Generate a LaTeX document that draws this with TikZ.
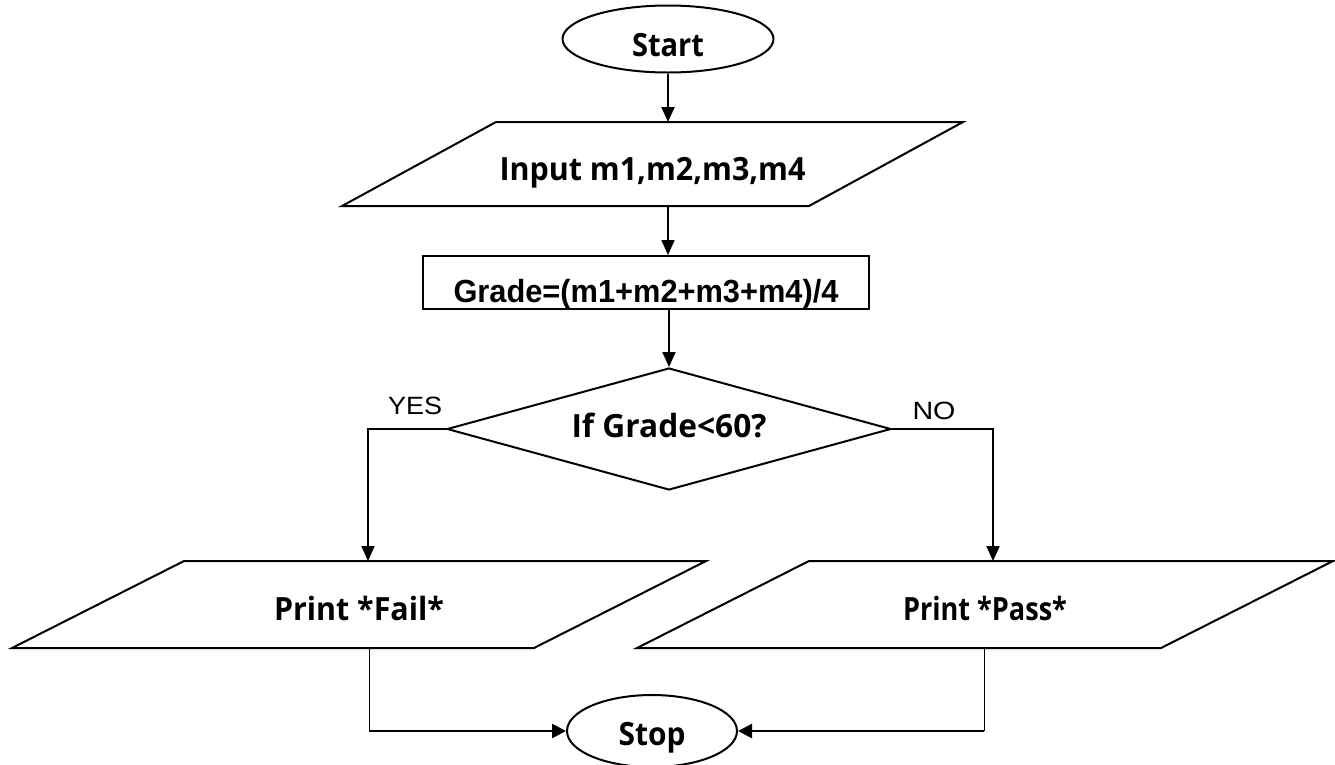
\documentclass[tikz,border=0pt]{standalone}
\usepackage{fontspec}
\usepackage{graphicx}
\setmainfont{Open Sans}
\newfontfamily\arialf{Liberation Sans}
\usetikzlibrary{shapes.geometric,arrows.meta,calc}
\newlength\fitlen
\newcommand\fitto[2]{\settowidth\fitlen{#2}\scalebox{\fpeval{(#1)/(\the\fitlen)}}[1]{#2}}
\newcommand\tx[3]{\raisebox{-#1}[0pt][0pt]{\fitto{#2}{#3}}}
\newcommand\paraframe[2]{\draw[outline] (#1.south west) -- ($(#1.north west)+(#2,0)$) -- (#1.north east) -- ($(#1.south east)-(#2,0)$) -- cycle;}
\tikzset{
  outline/.style={line width=2pt, line join=miter},
  base/.style={draw, outline, inner sep=0pt, font=\fontsize{32}{38}\selectfont\bfseries},
  term/.style={base, ellipse},
  iobox/.style={base, draw=none, rectangle},
  proc/.style={base, rectangle},
  decis/.style={base, diamond, aspect=3.64},
  lbl/.style={font=\arialf\fontsize{25}{30}\selectfont, inner sep=0pt},
  arr/.style={line width=2pt, -{Triangle[length=15pt,width=13pt]}},
  thinline/.style={line width=1pt},
  thickarr/.style={line width=2.6pt, -{Triangle[length=14pt,width=14pt]}},
}
\begin{document}
\begin{tikzpicture}[x=1pt,y=-1pt]
\useasboundingbox (0,0) rectangle (1335,764);
\node[term, minimum width=211pt, minimum height=67pt] (start) at (668,39) {\tx{17pt}{72pt}{Start}};
\node[iobox, minimum width=619pt, minimum height=82pt] (in) at (652.5,164) {\tx{16pt}{306pt}{Input m1,m2,m3,m4}};
\paraframe{in}{154pt}
\node[proc, minimum width=446pt, minimum height=53pt] (grade) at (646,282.5) {\tx{19.5pt}{385pt}{\arialf Grade=(m1+m2+m3+m4)/4}};
\node[decis, minimum width=444pt, minimum height=122pt] (dec) at (669,429) {\tx{8pt}{195pt}{If Grade<60?}};
\node[iobox, minimum width=692pt, minimum height=85pt] (fail) at (359,604.5) {\tx{15.5pt}{170pt}{Print *Fail*}};
\paraframe{fail}{172pt}
\node[iobox, minimum width=694pt, minimum height=85pt] (pass) at (985,604.5) {\tx{15.5pt}{164pt}{Print *Pass*}};
\paraframe{pass}{172pt}
\node[term, minimum width=170pt, minimum height=72pt] (stop) at (652,731) {\tx{14pt}{67pt}{Stop}};
\node[lbl] (yes) at (415,406) {\fitto{54pt}{YES}};
\node[lbl] (no) at (934,411) {\fitto{43pt}{NO}};
% connectors
\draw[arr] (start.south) -- (start.south |- in.north);
\draw[arr] (start.south |- in.south) -- (start.south |- grade.north);
\draw[arr] (dec.north |- grade.south) -- (dec.north);
\draw[arr] (dec.west) -| ($(fail.center |- fail.north)+(9pt,0)$);
\draw[arr] (dec.east) -| ($(pass.center |- pass.north)+(8pt,0)$);
\coordinate (fc) at ($(fail.center |- stop.west)+(10pt,0)$);
\coordinate (pc) at ($(pass.center |- stop.east)+(-1pt,0)$);
\draw[thinline] ($(fail.center |- fail.south)+(10pt,0)$) -- (fc);
\draw[thickarr] (fc) -- (stop.west);
\draw[thinline] ($(pass.center |- pass.south)+(-1pt,0)$) -- (pc);
\draw[thickarr] (pc) -- (stop.east);
\end{tikzpicture}
\end{document}
